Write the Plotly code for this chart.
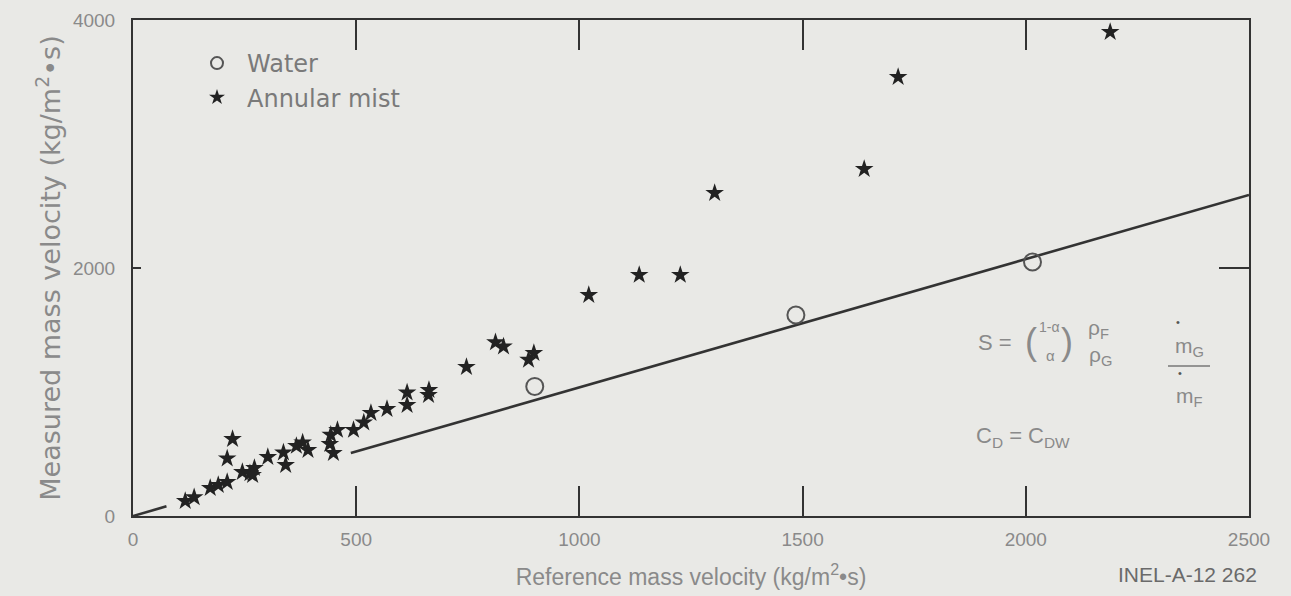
import plotly.graph_objects as go

# ---- data ----
water_x = [900, 1485, 2015]
water_y = [1045, 1621, 2048]

mist_x = [117, 137, 173, 191, 211, 223, 211, 245, 262, 272, 268, 302, 337, 342, 366, 392, 380,
          443, 441, 449, 458, 494, 517, 533, 569, 614, 614, 663, 662, 747, 812, 830, 898, 886,
          1021, 1134, 1226, 1303, 1638, 1714, 2189]
mist_y = [120, 150, 226, 250, 274, 621, 464, 355, 345, 387, 331, 476, 512, 411, 565, 532, 593,
          655, 580, 508, 694, 694, 754, 831, 863, 996, 895, 1016, 976, 1202, 1400, 1367, 1314, 1260,
          1782, 1944, 1944, 2605, 2798, 3540, 3903]

line_x = [0, 75, None, 488, 2500]
line_y = [0, 78, None, 508, 2589]

x_ticks = [0, 500, 1000, 1500, 2000, 2500]
y_ticks = [0, 2000, 4000]

W, H = 1291, 596
L, R, T, B = 133, 1249, 20, 516
BG = "#e9e9e6"
INK = "#333333"
GRAY = "#8a8a8a"
FONT = "Liberation Sans, Arial, sans-serif"
WIDE = "DejaVu Sans, Verdana, sans-serif"
NARROW = "Liberation Sans Narrow, Liberation Sans, Arial, sans-serif"


def px(x, y):
    return (x - L) / (R - L), (B - y) / (B - T)


fig = go.Figure()
fig.add_trace(go.Scatter(x=line_x, y=line_y, mode="lines", showlegend=False,
                         line=dict(color=INK, width=2.6), hoverinfo="skip"))
fig.add_trace(go.Scatter(x=water_x, y=water_y, mode="markers", name="Water",
                         marker=dict(symbol="circle-open", size=17, color="#555555",
                                     line=dict(width=2, color="#555555"))))
fig.add_trace(go.Scatter(x=mist_x, y=mist_y, mode="markers", name="Annular mist",
                         marker=dict(symbol="star", size=14, color="#222222",
                                     line=dict(width=0))))
# empty traces holding the top / right tick axes
fig.add_trace(go.Scatter(x=[None], y=[None], yaxis="y2", showlegend=False, hoverinfo="skip"))
fig.add_trace(go.Scatter(x=[None], y=[None], xaxis="x2", showlegend=False, hoverinfo="skip"))

ann = []


def txt(x, y, s, size=18, color=GRAY, font=FONT, xanchor="center"):
    xp, yp = px(x, y)
    ann.append(dict(x=xp, y=yp, xref="paper", yref="paper", text=s, showarrow=False,
                    xanchor=xanchor, yanchor="middle", font=dict(size=size, color=color, family=font)))


txt(995, 343, "S =", 22)
txt(1031, 341, "(", 36)
txt(1049, 327, "1-α", 14)
txt(1050, 355, "α", 15)
txt(1067, 341, ")", 36)
txt(1098, 329, "ρ<sub>F</sub>", 21)
txt(1100, 356, "ρ<sub>G</sub>", 21)
txt(1178, 322, "•", 11, "#555555")
txt(1189, 347, "m<sub>G</sub>", 21)
txt(1180, 373, "•", 11, "#555555")
txt(1189, 397, "m<sub>F</sub>", 21)
txt(974, 437, "C<sub>D</sub> = C<sub>DW</sub>", 22, xanchor="left")
txt(1187, 574, "INEL-A-12 262", 21, "#6a6a6a", FONT)

shapes = []
x0, y0 = px(1168, 366)
x1, _ = px(1210, 366)
shapes.append(dict(type="line", xref="paper", yref="paper", x0=x0, x1=x1, y0=y0, y1=y0,
                   line=dict(color="#777777", width=1.5)))

fig.update_layout(
    width=W, height=H,
    margin=dict(l=L, r=W - R, t=T, b=H - B, autoexpand=False),
    paper_bgcolor=BG, plot_bgcolor=BG,
    font=dict(family=FONT, color=GRAY),
    annotations=ann, shapes=shapes,
    legend=dict(x=px(187, 0)[0], y=px(0, 41)[1], xanchor="left", yanchor="top",
                bgcolor="rgba(0,0,0,0)", font=dict(size=24, color="#7a7a7a", family=WIDE),
                itemsizing="constant", itemwidth=50, tracegroupgap=0),
    xaxis=dict(range=[0, 2500], tickvals=x_ticks, ticktext=[str(v) for v in x_ticks],
               automargin=False,
               showgrid=False, zeroline=False, showline=True, linecolor=INK, linewidth=2,
               mirror=True, ticks="inside", ticklen=30, tickwidth=2, tickcolor=INK,
               ticklabelstandoff=5,
               tickfont=dict(size=19, color=GRAY, family=FONT),
               title=dict(text="Reference mass velocity (kg/m<sup>2</sup>•s)",
                          font=dict(size=23, color=GRAY, family=NARROW), standoff=20)),
    xaxis2=dict(range=[0, 2500], overlaying="x", side="top", anchor="y", tickvals=x_ticks,
                automargin=False,
                showticklabels=False, showgrid=False, zeroline=False, showline=False,
                ticks="inside", ticklen=30, tickwidth=2, tickcolor=INK),
    yaxis=dict(range=[0, 4000], tickvals=y_ticks, ticktext=[str(v) for v in y_ticks],
               automargin=False,
               showgrid=False, zeroline=False, showline=True, linecolor=INK, linewidth=2,
               mirror=True, ticks="inside", ticklen=8, tickwidth=2, tickcolor=INK,
               ticklabelstandoff=12,
               tickfont=dict(size=19, color=GRAY),
               title=dict(text="Measured mass velocity (kg/m<sup>2</sup>•s)",
                          font=dict(size=27, color=GRAY, family=WIDE), standoff=4)),
    yaxis2=dict(range=[0, 4000], overlaying="y", side="right", anchor="x", tickvals=y_ticks,
                automargin=False,
                showticklabels=False, showgrid=False, zeroline=False, showline=False,
                ticks="inside", ticklen=30, tickwidth=2, tickcolor=INK),
)

fig.write_html("out.html")
